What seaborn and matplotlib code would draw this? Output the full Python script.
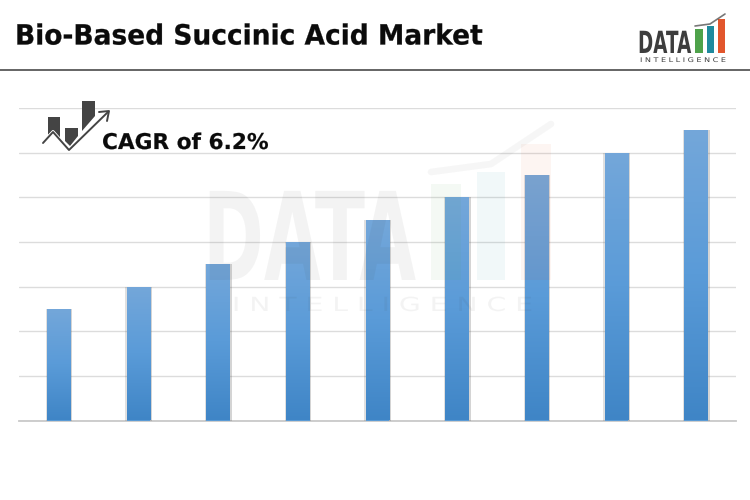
"""Bio-based succinic acid market bar chart."""

import numpy as np
import pandas as pd
import matplotlib
matplotlib.use("Agg")
import matplotlib.pyplot as plt
import matplotlib.patheffects as pe
from matplotlib.transforms import Affine2D
import seaborn as sns

# values (axis labels are hidden in the reference)
periods = ["P1", "P2", "P3", "P4", "P5", "P6", "P7", "P8", "P9"]
market_size = [2.5, 3.0, 3.5, 4.0, 4.5, 5.0, 5.5, 6.0, 6.5]
y_ticks = [0, 1, 2, 3, 4, 5, 6, 7]

TITLE = "Bio-Based Succinic Acid Market"
CAGR = "CAGR of 6.2%"
W, H = 750, 500


class Squeeze(pe.AbstractPathEffect):
    """Stretch a text horizontally about its left edge, optionally thicken it."""

    def __init__(self, sx, x_px, bold=0):
        super().__init__()
        self.sx = sx
        self.x_px = x_px
        self.bold = bold

    def draw_path(self, renderer, gc, tpath, affine, rgbFace=None):
        t = Affine2D().translate(-self.x_px, 0).scale(self.sx, 1).translate(self.x_px, 0)
        gc0 = renderer.new_gc()
        gc0.copy_properties(gc)
        if self.bold:
            gc0.set_linewidth(self.bold)
            gc0.set_foreground(rgbFace)
        else:
            gc0.set_linewidth(0)
        renderer.draw_path(gc0, tpath, affine + t, rgbFace)
        gc0.restore()


sns.set_theme(style="white")
plt.rcParams["font.family"] = ["DejaVu Sans"]

fig = plt.figure(figsize=(7.5, 5), dpi=100, facecolor="white")
ax = fig.add_axes([19 / W, 1 - 420.5 / H, 717 / W, 312.5 / H])

df = pd.DataFrame({"period": periods, "size": market_size})
sns.barplot(data=df, x="period", y="size", color="#5b9bd5", width=0.3, ax=ax, zorder=3,
            saturation=1, linewidth=0)

ax.set_xlabel("")
ax.set_ylabel("")
ax.set_yticks(y_ticks)
ax.tick_params(left=False, bottom=False, labelleft=False, labelbottom=False)
ax.grid(axis="y", color="#dcdcdc", linewidth=1.0, zorder=0)
ax.set_axisbelow(True)
for name in ["top", "left", "right"]:
    ax.spines[name].set_visible(False)
ax.spines["bottom"].set_color("#c9c9c9")
ax.spines["bottom"].set_linewidth(1.3)

# vertical gradient and soft side shadow on each bar
grad = np.linspace(0, 1, 256).reshape(-1, 1)
cmap = matplotlib.colors.LinearSegmentedColormap.from_list("bar", ["#74a7da", "#5a9bd8", "#3f85c6"])
for bar in list(ax.patches):
    bar.set_path_effects([
        pe.SimplePatchShadow(offset=(1.2, 0), shadow_rgbFace="#555555", alpha=0.25),
        pe.SimplePatchShadow(offset=(-0.8, 0), shadow_rgbFace="#555555", alpha=0.18),
        pe.Normal(),
    ])
    x0, w, h = bar.get_x(), bar.get_width(), bar.get_height()
    im = ax.imshow(grad, extent=(x0, x0 + w, 0, h), cmap=cmap, aspect="auto", zorder=4)
    im.set_clip_path(bar)
ax.set_xlim(-0.5, len(periods) - 0.5)
ax.set_ylim(y_ticks[0], y_ticks[-1])

# overlay in pixel coordinates for header, icon and logos
ov = fig.add_axes([0, 0, 1, 1], zorder=5)
ov.set_xlim(0, W)
ov.set_ylim(H, 0)
ov.axis("off")
ov.patch.set_alpha(0)

ov.text(15, 44.5, TITLE, fontsize=20, fontweight="bold", color="#0b0b0b", va="baseline", ha="left",
        path_effects=[Squeeze(0.953, 15, bold=0.2)])
ov.plot([0, W], [70, 70], color="#4a4a4a", lw=1.2)


def draw_logo(x, base, s, alpha, sub_x, sub_y, sub_size, sub_sx):
    """Data Intelligence logo; s scales it from the small header size."""
    ov.text(x, base, "DATA", fontsize=22 * s, fontweight="bold", color="#3d3d3d", alpha=alpha,
            va="baseline", ha="left", path_effects=[Squeeze(0.6, x)])
    bars = [(57, 64.5, 24, "#4ea24a"), (68.5, 75.5, 27, "#1f8a9e"), (79.5, 87, 34, "#e2562d")]
    for a, b, top, col in bars:
        ov.fill_between([x + a * s, x + b * s], base - top * s, base, color=col, alpha=alpha, lw=0)
    ov.plot([x + 57 * s, x + 72 * s, x + 87 * s], [base - 27 * s, base - 29 * s, base - 39 * s],
            color="#3d3d3d", lw=1.2 * s, alpha=alpha * 0.7)
    ov.text(sub_x, sub_y, "I N T E L L I G E N C E", fontsize=sub_size, color="#3d3d3d", alpha=alpha,
            va="center", ha="left", path_effects=[Squeeze(sub_sx, sub_x)])


draw_logo(638, 53, 1, 1, 640, 60.5, 4.6, 1.26)
draw_logo(203, 280, 4, 0.06, 232, 305.5, 14, 1.45)

# CAGR icon
icon = "#444444"
ov.fill([48, 60, 60, 53, 48], [117, 117, 138, 130, 135], color=icon, lw=0)
ov.fill([65, 78, 78, 70, 65], [128, 128, 136, 146, 141], color=icon, lw=0)
ov.fill([82, 95, 95, 82], [101, 101, 116, 131], color=icon, lw=0)
ov.plot([43, 53, 69, 108], [143, 132, 150, 112], color="white", lw=2.6)
ov.plot([43, 53, 69, 108], [143, 132, 150, 112], color=icon, lw=1.4)
ov.plot([99, 109, 107], [112, 111, 121], color=icon, lw=1.4)
ov.text(102, 149, CAGR, fontsize=15.6, fontweight="bold", color="#0b0b0b", va="baseline", ha="left",
        path_effects=[Squeeze(1, 102, bold=0.15)])

fig.savefig("out.png", dpi=100)
plt.close(fig)
